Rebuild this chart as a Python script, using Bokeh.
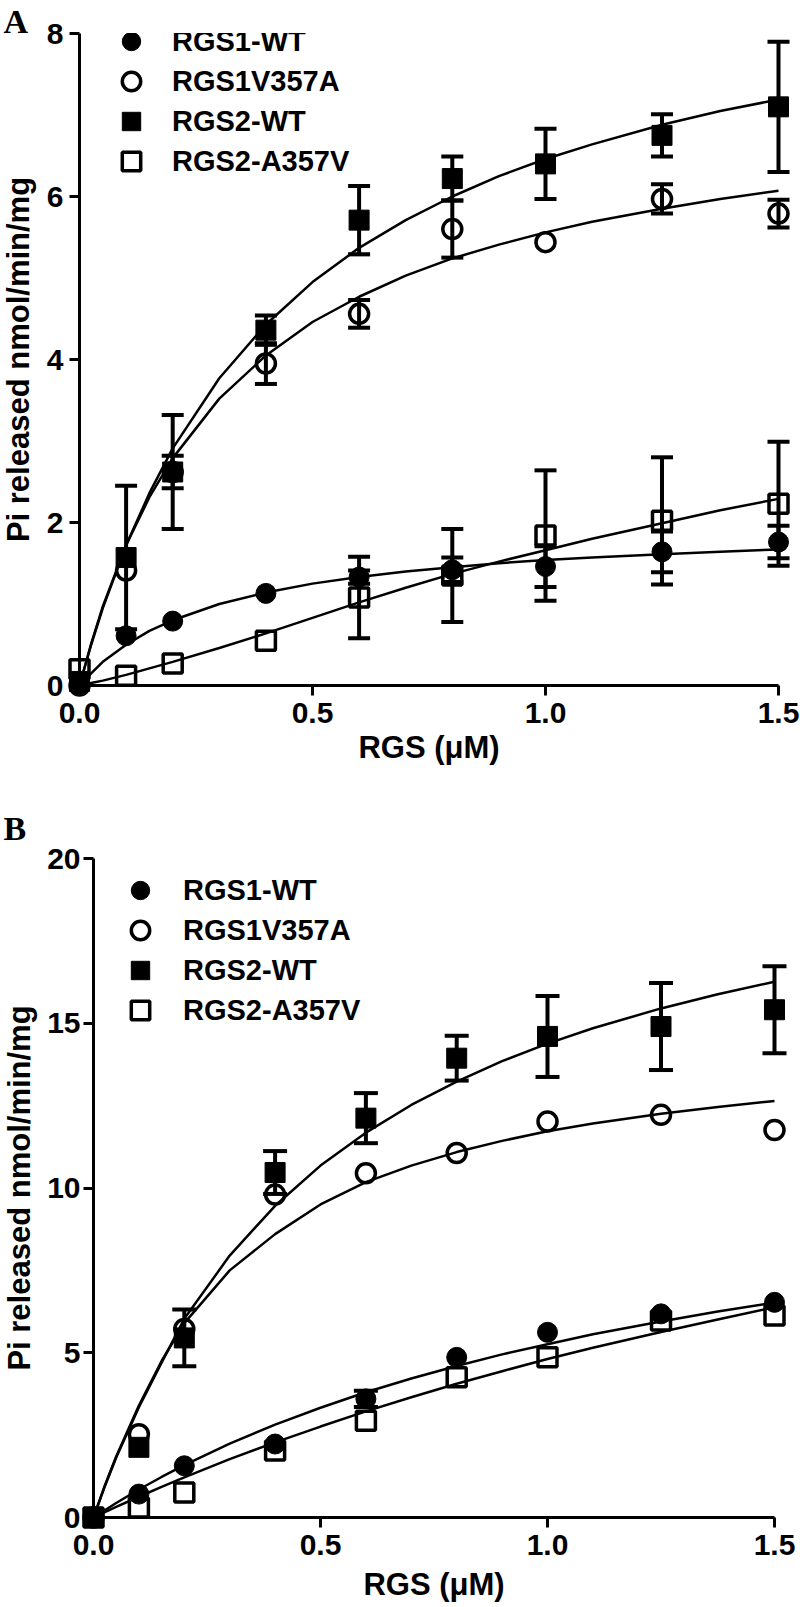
import math
from bokeh.plotting import figure
from bokeh.models import (Range1d, FixedTicker, NumeralTickFormatter, Whisker, TeeHead,
                          ColumnDataSource, Legend, LegendItem)
from bokeh.core.properties import value
from bokeh.embed import file_html
from bokeh.resources import INLINE

# ---------------- data ----------------
doses = [0.0, 0.1, 0.2, 0.4, 0.6, 0.8, 1.0, 1.25, 1.5]
series_names = ["RGS1-WT", "RGS1V357A", "RGS2-WT", "RGS2-A357V"]

# Panel A : means and SEM
a_rgs1_wt = [0.0, 0.61, 0.79, 1.13, 1.33, 1.42, 1.46, 1.64, 1.76]
a_rgs1_wt_err = [0, 0, 0, 0, 0.08, 0.15, 0.25, 0.25, 0.20]
a_rgs1_v357a = [0.0, 1.41, 2.62, 3.95, 4.56, 5.60, 5.44, 5.97, 5.79]
a_rgs1_v357a_err = [0, 0, 0.20, 0.25, 0.17, 0.35, 0, 0.18, 0.17]
a_rgs2_wt = [0.05, 1.57, 2.62, 4.36, 5.71, 6.22, 6.40, 6.75, 7.10]
a_rgs2_wt_err = [0, 0.88, 0.70, 0.18, 0.42, 0.27, 0.43, 0.26, 0.80]
a_rgs2_a357v = [0.20, 0.12, 0.27, 0.55, 1.08, 1.35, 1.84, 2.02, 2.23]
a_rgs2_a357v_err = [0, 0, 0, 0, 0.50, 0.57, 0.80, 0.78, 0.76]

# Panel B : means and SEM
b_rgs1_wt = [0.0, 0.71, 1.57, 2.23, 3.60, 4.86, 5.62, 6.18, 6.53]
b_rgs1_wt_err = [0, 0, 0, 0, 0.25, 0, 0, 0, 0]
b_rgs1_v357a = [0.0, 2.53, 5.72, 9.80, 10.45, 11.06, 12.02, 12.22, 11.76]
b_rgs1_v357a_err = [0, 0, 0, 0, 0, 0, 0, 0, 0]
b_rgs2_wt = [0.0, 2.13, 5.45, 10.47, 12.12, 13.94, 14.60, 14.90, 15.41]
b_rgs2_wt_err = [0, 0, 0.86, 0.65, 0.76, 0.68, 1.23, 1.32, 1.32]
b_rgs2_a357v = [0.0, 0.30, 0.76, 2.03, 2.94, 4.26, 4.86, 5.98, 6.13]
b_rgs2_a357v_err = [0, 0, 0, 0, 0, 0, 0, 0, 0]

# fitted curves at these doses
curve_x = [0.0, 0.025, 0.05, 0.1, 0.15, 0.2, 0.3, 0.4, 0.5, 0.6, 0.7, 0.8, 0.9,
           1.0, 1.1, 1.25, 1.375, 1.5]
a_fit_rgs1_wt = [0.0, 0.15, 0.29, 0.50, 0.67, 0.80, 1.00, 1.14, 1.25, 1.33, 1.40,
                 1.45, 1.50, 1.54, 1.57, 1.61, 1.64, 1.67]
a_fit_rgs1_v357a = [0.0, 0.51, 0.97, 1.72, 2.31, 2.79, 3.52, 4.05, 4.46, 4.77, 5.03,
                    5.24, 5.41, 5.56, 5.69, 5.85, 5.97, 6.07]
a_fit_rgs2_wt = [0.0, 0.50, 0.95, 1.72, 2.36, 2.91, 3.77, 4.43, 4.95, 5.37, 5.71,
                 6.00, 6.25, 6.46, 6.64, 6.88, 7.05, 7.19]
a_fit_rgs2_a357v = [0.0, 0.03, 0.06, 0.13, 0.21, 0.29, 0.46, 0.64, 0.83, 1.02, 1.20,
                    1.37, 1.52, 1.66, 1.80, 1.99, 2.15, 2.29]
b_fit_rgs1_wt = [0.0, 0.22, 0.44, 0.85, 1.23, 1.59, 2.24, 2.82, 3.33, 3.80, 4.22,
                 4.60, 4.95, 5.26, 5.56, 5.95, 6.25, 6.52]
b_fit_rgs1_v357a = [0.0, 0.97, 1.85, 3.40, 4.75, 5.90, 7.50, 8.60, 9.50, 10.18, 10.68,
                    11.09, 11.43, 11.72, 11.96, 12.25, 12.46, 12.64]
b_fit_rgs2_wt = [0.0, 0.95, 1.82, 3.35, 4.70, 6.03, 7.95, 9.46, 10.68, 11.68, 12.52,
                 13.23, 13.85, 14.38, 14.85, 15.45, 15.88, 16.26]
b_fit_rgs2_a357v = [0.0, 0.16, 0.32, 0.63, 0.93, 1.22, 1.77, 2.28, 2.76, 3.22, 3.65,
                    4.06, 4.44, 4.81, 5.15, 5.63, 6.01, 6.38]

x_ticks = [0.0, 0.5, 1.0, 1.5]
a_y_ticks = [0, 2, 4, 6, 8]
b_y_ticks = [0, 5, 10, 15, 20]
x_label = "RGS (\u03bcM)"
y_label = "Pi released nmol/min/mg"

# ---------------- styling ----------------
FONT = "Liberation Sans"
MARKERS = ["circle", "circle", "square", "square"]
FILLED = [True, False, True, False]
W = 800


def make_panel(letter, means, errs, fits, y_ticks, g):
    # page-pixel geometry -> ranges
    fl = g["bl"]                           # frame left (page px), x = 0 here
    fr = W - g["br"]
    fb = g["page_top"] + g["h"] - g["bb"]  # frame bottom (page px), y = 0 here
    ft = g["page_top"] + g["bt"]
    xs = g["xs"]
    ys = (fb - ft) / y_ticks[-1]
    x_end = (fr - fl) / xs

    def dx(px):
        return (px - fl) / xs

    def dy(py):
        return (fb - py) / ys

    p = figure(width=W, height=g["h"], output_backend="svg", toolbar_location=None,
               x_range=Range1d(0, x_end), y_range=Range1d(0, y_ticks[-1]),
               min_border_left=g["bl"], min_border_right=g["br"],
               min_border_top=g["bt"], min_border_bottom=g["bb"])
    p.grid.visible = False
    p.outline_line_color = None
    p.background_fill_color = "white"
    p.border_fill_color = "white"

    xa = p.xaxis[0]
    ya = p.yaxis[0]
    for ax in (xa, ya):
        ax.axis_line_width = 3
        ax.major_tick_line_width = 3
        ax.major_tick_out = 10
        ax.major_tick_in = 0
        ax.minor_tick_line_color = None
        ax.major_label_text_font = FONT
        ax.major_label_text_font_style = "bold"
        ax.major_label_text_font_size = "30px"
        ax.major_label_text_color = "black"
    xa.bounds = (x_ticks[0], x_ticks[-1])
    xa.ticker = FixedTicker(ticks=x_ticks)
    xa.formatter = NumeralTickFormatter(format="0.0")
    xa.major_label_standoff = g["x_ls"]
    ya.bounds = (y_ticks[0], y_ticks[-1])
    ya.ticker = FixedTicker(ticks=y_ticks)
    ya.major_label_standoff = g["y_ls"]

    # fitted curves
    for fit in fits:
        p.line(curve_x, fit, line_width=2.5, line_color="black")

    # error bars
    for m, e in zip(means, errs):
        xx = [d for d, v in zip(doses, e) if v > 0]
        if not xx:
            continue
        up = [mm + v for mm, v in zip(m, e) if v > 0]
        lo = [mm - v for mm, v in zip(m, e) if v > 0]
        src = ColumnDataSource(dict(x=xx, upper=up, lower=lo))
        p.add_layout(Whisker(source=src, base="x", upper="upper", lower="lower",
                             line_width=4, line_color="black",
                             upper_head=TeeHead(size=g["cap"], line_width=4, line_color="black"),
                             lower_head=TeeHead(size=g["cap"], line_width=4, line_color="black")))

    # markers (drawn above the axes, not clipped at the origin)
    scat = []
    for m, mk, filled in zip(means, MARKERS, FILLED):
        if filled:
            r = p.scatter(doses, m, marker=mk, size=20, fill_color="black",
                          line_color="black", line_width=1)
        else:
            r = p.scatter(doses, m, marker=mk, size=19, fill_color=None,
                          line_color="black", line_width=3.5)
        r.level = "overlay"
        scat.append(r)

    # legend: one small legend per row so that rows can be 40 px apart
    leg_line = p.line(x=[], y=[], line_width=4, line_color="black")
    gh = 46
    for i, (n, r) in enumerate(zip(series_names, scat)):
        cy = g["leg_y0"] + 40 * i
        lg = Legend(items=[LegendItem(label=n, renderers=[leg_line, r])],
                    location=(g["leg_cx"] - gh / 2 - fl, fb - (cy + gh / 2)),
                    glyph_width=gh, glyph_height=gh, label_height=gh, spacing=0,
                    padding=0, margin=0, label_standoff=g["leg_so"],
                    label_text_font=FONT, label_text_font_style="bold",
                    label_text_font_size="29px", label_text_color="black",
                    border_line_color=None, background_fill_alpha=0)
        p.add_layout(lg)

    # axis titles and panel letter (text glyphs drawn on the overlay level)
    t1 = p.text(x=[x_ticks[-1] / 2], y=[dy(g["xl_base"])], text=[x_label],
                text_font=value(FONT), text_font_style="bold", text_font_size="31px",
                text_align="center", text_baseline="alphabetic", text_color="black")
    t2 = p.text(x=[dx(g["yl_base"])], y=[y_ticks[-1] / 2], text=[y_label], angle=math.pi / 2,
                text_font=value(FONT), text_font_style="bold", text_font_size="31px",
                text_align="center", text_baseline="alphabetic", text_color="black")
    t3 = p.text(x=[dx(3)], y=[dy(g["let_base"])], text=[letter],
                text_font=value("Liberation Serif"), text_font_style="bold",
                text_font_size="34px", text_align="left", text_baseline="alphabetic",
                text_color="black")
    for t in (t1, t2, t3):
        t.level = "overlay"
    return p


geo_a = dict(h=800, page_top=0, bl=79, br=6, bt=33, bb=115, xs=466.0,
             x_ls=7, y_ls=6, cap=22,
             leg_y0=41, leg_cx=131, leg_so=18,
             xl_base=747, yl_base=18, let_base=21)
geo_b = dict(h=807, page_top=800, bl=93, br=6, bt=58, bb=90, xs=454.0,
             x_ls=7, y_ls=3, cap=24,
             leg_y0=890, leg_cx=140, leg_so=20,
             xl_base=1584, yl_base=19, let_base=828)

pa = make_panel("A",
                [a_rgs1_wt, a_rgs1_v357a, a_rgs2_wt, a_rgs2_a357v],
                [a_rgs1_wt_err, a_rgs1_v357a_err, a_rgs2_wt_err, a_rgs2_a357v_err],
                [a_fit_rgs1_wt, a_fit_rgs1_v357a, a_fit_rgs2_wt, a_fit_rgs2_a357v],
                a_y_ticks, geo_a)
pb = make_panel("B",
                [b_rgs1_wt, b_rgs1_v357a, b_rgs2_wt, b_rgs2_a357v],
                [b_rgs1_wt_err, b_rgs1_v357a_err, b_rgs2_wt_err, b_rgs2_a357v_err],
                [b_fit_rgs1_wt, b_fit_rgs1_v357a, b_fit_rgs2_wt, b_fit_rgs2_a357v],
                b_y_ticks, geo_b)

# two separate roots, so the two panels keep their own frame positions
open("out.html", "w").write(file_html([pa, pb], INLINE))
